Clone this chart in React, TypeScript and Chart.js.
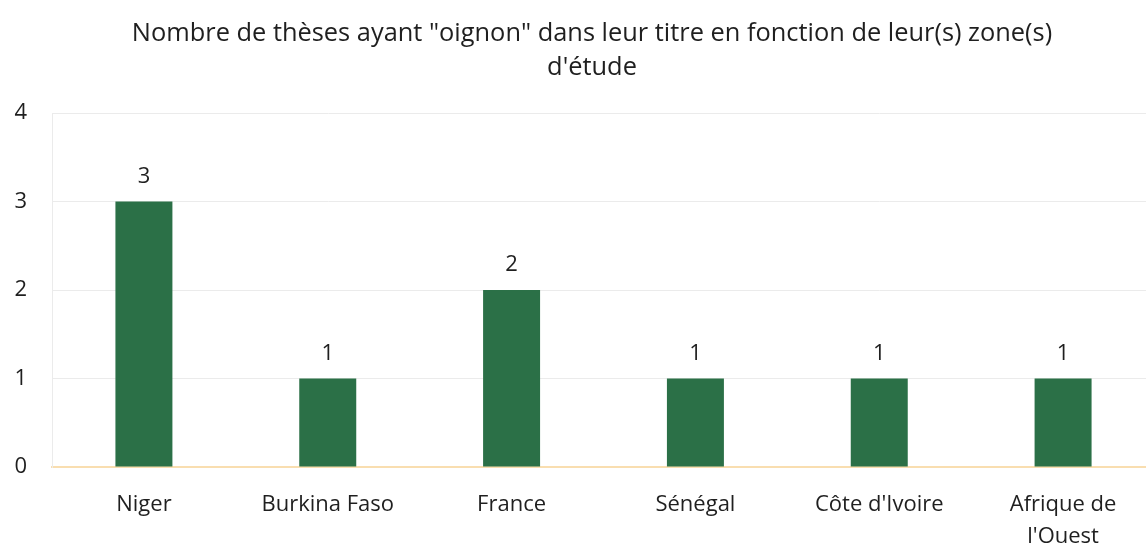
import React, { useEffect, useRef } from "react";
import { Chart, registerables } from "chart.js";

Chart.register(...registerables);

const categories: (string | string[])[] = [
  "Niger",
  "Burkina Faso",
  "France",
  "Sénégal",
  "Côte d'Ivoire",
  ["Afrique de", "l'Ouest"],
];
const values: number[] = [3, 1, 2, 1, 1, 1];
const titleLines: string[] = [
  "Nombre de thèses ayant \"oignon\" dans leur titre en fonction de leur(s) zone(s)",
  "d'étude",
];

const FONT = "'Open Sans', 'Noto Sans', sans-serif";
const TEXT = "#1f1f1f";

const valueLabels = {
  id: "valueLabels",
  afterDatasetsDraw(chart: any) {
    const ctx = chart.ctx;
    const meta = chart.getDatasetMeta(0);
    ctx.save();
    ctx.font = `22px ${FONT}`;
    ctx.fillStyle = TEXT;
    ctx.textAlign = "center";
    ctx.textBaseline = "middle";
    meta.data.forEach((bar: any, i: number) => {
      ctx.fillText(String(values[i]), bar.x, bar.y - 25);
    });
    ctx.restore();
  },
};

const centeredTitle = {
  id: "centeredTitle",
  afterDraw(chart: any) {
    const ctx = chart.ctx;
    ctx.save();
    ctx.font = `25.4px ${FONT}`;
    ctx.fillStyle = TEXT;
    ctx.textAlign = "center";
    ctx.textBaseline = "middle";
    titleLines.forEach((line, i) => {
      ctx.fillText(line, 592, 34 + i * 34);
    });
    ctx.restore();
  },
};

export default function App() {
  const ref = useRef<HTMLCanvasElement>(null);
  useEffect(() => {
    document.documentElement.style.overflow = "hidden";
    document.body.style.overflow = "hidden";
    const chart = new Chart(ref.current!, {
      type: "bar",
      data: {
        labels: categories,
        datasets: [
          {
            data: values,
            backgroundColor: "#2b7047",
            barPercentage: 0.62,
            categoryPercentage: 0.5,
          },
        ],
      },
      options: {
        animation: false,
        responsive: false,
        layout: { padding: { left: 0, right: 29, top: 113, bottom: 0 } },
        plugins: {
          legend: { display: false },
          tooltip: { enabled: false },
          title: { display: false },
        },
        scales: {
          x: {
            grid: { display: false },
            border: { display: true, color: "#f9deb0", width: 2 },
            ticks: {
              color: TEXT,
              font: { family: FONT, size: 22, lineHeight: 1.45 },
              padding: 14,
              maxRotation: 0,
              autoSkip: false,
            },
            afterFit: (s: any) => {
              s.height = 78;
            },
          },
          y: {
            min: 0,
            max: 4,
            grid: {
              color: (c: any) => (c.tick && c.tick.value === 0 ? "rgba(0,0,0,0)" : "#ebebeb"),
              drawTicks: false,
            },
            border: { display: true, color: "#ebebeb" },
            ticks: {
              stepSize: 1,
              color: TEXT,
              font: { family: FONT, size: 22 },
              padding: 25,
            },
            afterFit: (s: any) => {
              s.width = 52;
            },
          },
        },
      },
      plugins: [valueLabels, centeredTitle],
    });
    return () => chart.destroy();
  }, []);
  return (
    <div style={{ position: "fixed", left: 0, top: 0, width: 1184, height: 545, background: "#fff" }}>
      <canvas ref={ref} width={1184} height={545} style={{ display: "block" }} />
    </div>
  );
}
